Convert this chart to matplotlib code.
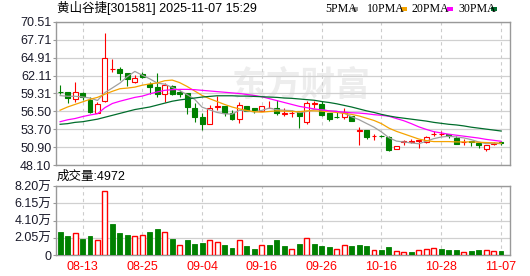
import matplotlib
matplotlib.use('Agg')
import matplotlib.pyplot as plt
from matplotlib.patches import Rectangle
import numpy as np

plt.rcParams['font.family'] = ['Liberation Sans', 'Noto Sans CJK SC']

dates = ['08-08', '08-11', '08-12', '08-13', '08-14', '08-15', '08-18', '08-19', '08-20', '08-21',
         '08-22', '08-25', '08-26', '08-27', '08-28', '08-29', '09-01', '09-02', '09-03', '09-04',
         '09-05', '09-08', '09-09', '09-10', '09-11', '09-12', '09-15', '09-16', '09-17', '09-18',
         '09-19', '09-22', '09-23', '09-24', '09-25', '09-26', '09-29', '09-30', '10-09', '10-10',
         '10-13', '10-14', '10-15', '10-16', '10-17', '10-20', '10-21', '10-22', '10-23', '10-24',
         '10-27', '10-28', '10-29', '10-30', '10-31', '11-03', '11-04', '11-05', '11-06', '11-07']

opens = np.array([59.6, 59.55, 58.4, 59.34, 58.3, 56.32, 58.09, 63.1, 63.08, 62.46,
                  61.16, 62.36, 60.8, 60.38, 59.24, 60.4, 59.5, 59.4, 57.0, 55.7,
                  54.6, 57.2, 57.36, 56.2, 55.3, 57.36, 57.0, 56.6, 57.0, 57.0,
                  56.1, 56.2, 56.5, 54.8, 57.7, 57.7, 56.26, 55.7, 55.7, 55.74,
                  53.5, 53.66, 52.6, 52.75, 52.45, 50.65, 51.7, 51.8, 51.9, 51.8,
                  52.95, 52.95, 53.0, 52.3, 51.7, 51.95, 51.6, 50.65, 51.5, 51.7])
highs = np.array([60.6, 59.55, 61.1, 59.5, 58.7, 58.05, 68.8, 64.64, 63.5, 62.5,
                  62.2, 62.7, 61.16, 62.56, 61.0, 60.6, 59.85, 59.4, 57.8, 56.2,
                  57.5, 58.9, 57.4, 56.7, 58.0, 57.4, 57.0, 57.4, 58.2, 58.3,
                  57.0, 56.7, 56.5, 58.2, 58.2, 58.2, 56.26, 56.5, 57.1, 55.8,
                  54.0, 53.66, 52.98, 52.9, 52.6, 51.1, 52.0, 52.2, 52.0, 52.6,
                  53.4, 53.4, 53.0, 52.6, 52.2, 51.95, 51.6, 51.3, 51.8, 51.95])
lows = np.array([59.25, 57.8, 58.05, 58.3, 56.3, 56.2, 58.0, 62.7, 61.4, 60.5,
                 61.0, 61.7, 59.24, 58.82, 58.04, 59.1, 58.7, 56.1, 54.9, 53.6,
                 54.5, 56.8, 55.8, 55.2, 54.7, 56.5, 56.3, 56.5, 57.0, 55.9,
                 55.8, 55.6, 53.9, 54.5, 57.1, 55.85, 55.06, 55.5, 55.3, 55.0,
                 51.2, 52.2, 52.1, 52.5, 50.3, 50.6, 51.2, 51.6, 50.8, 51.6,
                 52.7, 52.6, 52.3, 51.4, 51.3, 51.1, 50.8, 50.3, 51.3, 51.2])
closes = np.array([59.5, 58.61, 59.55, 58.82, 56.48, 57.62, 64.8, 63.2, 62.56, 61.5,
                   61.68, 61.84, 60.38, 59.24, 60.64, 59.2, 59.3, 57.25, 55.6, 54.5,
                   57.1, 57.3, 56.2, 55.3, 57.5, 56.6, 56.6, 57.36, 57.1, 56.2,
                   56.2, 56.3, 55.85, 57.9, 57.8, 56.0, 55.4, 55.6, 56.36, 55.06,
                   53.66, 52.47, 52.7, 52.65, 50.5, 51.06, 51.95, 51.9, 52.0, 52.5,
                   53.05, 53.05, 52.6, 51.4, 51.8, 51.7, 51.2, 51.3, 51.6, 51.6])

# volume in 万手
vols = np.array([2.73, 2.26, 2.57, 1.9, 2.26, 1.78, 7.6, 3.68, 2.61, 2.38,
                 2.22, 2.38, 2.73, 3.09, 2.69, 1.9, 1.15, 1.78, 1.31, 1.43,
                 1.78, 1.54, 1.19, 0.83, 1.78, 1.07, 0.71, 1.15, 1.19, 1.78,
                 1.07, 0.67, 1.31, 1.98, 1.31, 1.07, 0.95, 0.71, 1.15, 1.07,
                 1.19, 1.07, 0.55, 0.59, 0.95, 0.44, 0.32, 0.36, 0.55, 0.67,
                 0.79, 0.71, 0.59, 0.59, 0.32, 0.48, 0.59, 0.55, 0.48, 0.4972])

ma5 = [58.98, 58.87, 58.87, 58.77, 58.59, 58.22, 59.45, 60.18, 60.93, 61.94,
       62.75, 62.16, 61.59, 60.93, 60.76, 60.26, 59.75, 59.13, 58.4, 57.17,
       56.75, 56.35, 56.14, 56.08, 56.68, 56.58, 56.44, 56.67, 57.03, 56.77,
       56.69, 56.63, 56.33, 56.49, 56.81, 56.77, 56.59, 56.54, 56.23, 55.68,
       55.22, 54.63, 54.05, 53.31, 52.4, 51.88, 51.74, 51.59, 51.46, 51.86,
       52.26, 52.51, 52.64, 52.52, 52.38, 52.11, 51.74, 51.48, 51.52, 51.48]
ma10 = [56.7, 57.2, 57.6, 58.0, 58.4, 58.7, 59.2, 59.65, 60.05, 60.15,
        60.3, 60.6, 60.8, 60.95, 61.3, 61.4, 61.0, 60.4, 59.7, 59.0,
        58.5, 58.05, 57.6, 57.2, 56.9, 56.65, 56.45, 56.4, 56.5, 56.6,
        56.55, 56.5, 56.45, 56.6, 56.6, 56.55, 56.45, 56.35, 56.2, 56.05,
        55.8, 55.45, 55.1, 54.6, 53.9, 53.4, 53.0, 52.6, 52.2, 51.95,
        51.8, 51.8, 51.8, 51.75, 51.75, 51.75, 51.7, 51.65, 51.6, 51.55]
ma20 = [54.9, 55.2, 55.4, 55.7, 55.95, 56.15, 57.1, 57.75, 58.1, 58.4,
        58.7, 58.9, 59.25, 59.55, 59.8, 59.9, 59.95, 59.95, 59.9, 59.8,
        59.7, 59.6, 59.5, 59.4, 59.3, 59.15, 59.0, 58.8, 58.5, 58.2,
        57.9, 57.6, 57.3, 57.1, 56.9, 56.75, 56.6, 56.5, 56.4, 56.3,
        56.25, 56.15, 56.0, 55.9, 55.75, 55.4, 55.05, 54.6, 54.1, 53.7,
        53.35, 53.15, 52.95, 52.8, 52.65, 52.5, 52.35, 52.15, 52.0, 51.85]
ma30 = [54.5, 54.6, 54.8, 54.9, 55.1, 55.3, 55.6, 55.9, 56.2, 56.5,
        56.8, 57.0, 57.2, 57.5, 57.8, 58.1, 58.3, 58.45, 58.6, 58.75,
        58.85, 58.95, 58.95, 58.95, 58.9, 58.9, 58.85, 58.8, 58.75, 58.7,
        58.6, 58.55, 58.45, 58.35, 58.25, 58.05, 57.9, 57.7, 57.45, 57.2,
        56.9, 56.6, 56.35, 56.05, 55.8, 55.6, 55.45, 55.3, 55.15, 55.0,
        54.8, 54.65, 54.5, 54.4, 54.25, 54.05, 53.9, 53.75, 53.6, 53.45]

price_ticks = [48.10, 50.90, 53.70, 56.50, 59.31, 62.11, 64.91, 67.71, 70.51]
vol_ticks = [0, 2.05, 4.10, 6.15, 8.20]
vol_labels = ['0', '2.05万', '4.10万', '6.15万', '8.20万']

RED = '#ff0000'
GREEN = '#008000'
W, H = 530, 276


def px(x, y):
    return x / W, 1 - y / H


fig = plt.figure(figsize=(W / 100, H / 100), dpi=100)
ax1 = fig.add_axes([56 / W, 1 - 165.3 / H, 454 / W, 143.6 / H])
ax2 = fig.add_axes([56 / W, 1 - 255 / H, 454 / W, 69 / H])

x = np.arange(len(dates))
bw = 0.66
lw = 0.8

# watermark
ax1.text(0.54, 0.56, '东方财富', transform=ax1.transAxes, fontsize=25, color='#ededed',
         ha='center', va='center', fontweight='bold', zorder=0,
         family=['Noto Sans CJK SC', 'DejaVu Sans'])

for i in x:
    o, h, l, c = opens[i], highs[i], lows[i], closes[i]
    lo, hi = min(o, c), max(o, c)
    if c >= o:
        ax1.add_patch(Rectangle((i - bw / 2, lo), bw, max(hi - lo, 0.02), facecolor='white',
                                edgecolor=RED, lw=lw, zorder=3))
        ax1.vlines(i, hi, h, color=RED, lw=lw, zorder=3)
        ax1.vlines(i, l, lo, color=RED, lw=lw, zorder=3)
    else:
        ax1.vlines(i, l, h, color=GREEN, lw=lw, zorder=3)
        ax1.add_patch(Rectangle((i - bw / 2, lo), bw, max(hi - lo, 0.02), facecolor=GREEN,
                                edgecolor=GREEN, lw=lw, zorder=3))

ax1.plot(x, ma5, color='#a0a0a0', lw=0.9, zorder=4)
ax1.plot(x, ma10, color='#f5a300', lw=0.9, zorder=4)
ax1.plot(x, ma20, color='#ff00ff', lw=0.9, zorder=4)
ax1.plot(x, ma30, color='#006d2c', lw=0.9, zorder=4)

vol_up = np.r_[False, closes[1:] > closes[:-1]]
for i in x:
    if vol_up[i]:
        ax2.add_patch(Rectangle((i - bw / 2, 0), bw, vols[i], facecolor='white',
                                edgecolor=RED, lw=1.0, zorder=3))
    else:
        ax2.add_patch(Rectangle((i - bw / 2, 0), bw, vols[i], facecolor=GREEN,
                                edgecolor=GREEN, lw=0.6, zorder=3))

for ax in (ax1, ax2):
    ax.set_xlim(-0.55, 60.2)
    ax.set_xticks(x[3::8])
    ax.grid(axis='y', color='#d0d0d0', lw=0.9, ls='-', zorder=1)
    ax.grid(axis='x', color='#cccccc', lw=0.8, ls=(0, (3, 3)), zorder=1)
    ax.set_axisbelow(True)
    for s in ax.spines.values():
        s.set_color('#999999')
        s.set_linewidth(1.0)
    ax.tick_params(axis='y', length=2.5, pad=0.8, color='#999999', labelsize=9,
                   labelcolor='#1a1a2a')
    ax.tick_params(axis='x', length=0)

ax1.set_ylim(price_ticks[0], price_ticks[-1])
ax1.set_yticks(price_ticks)
ax1.set_yticklabels(['%.2f' % t for t in price_ticks])
ax1.tick_params(axis='x', labelbottom=False)

ax2.set_ylim(0, 8.2)
ax2.set_yticks(vol_ticks)
ax2.set_yticklabels(vol_labels)
ax2.set_xticklabels(dates[3::8])
ax2.tick_params(axis='x', labelsize=9, labelcolor=RED, pad=4)

fig.text(*px(57, 7.7), '黄山谷捷[301581] 2025-11-07 15:29', fontsize=9, va='center', ha='left')
fig.text(*px(57, 177), '成交量:4972', fontsize=9, va='center', ha='left')

legend = [('5PMA', 325, 352, '#a0a0a0'), ('10PMA', 367, 401, '#f5a300'),
          ('20PMA', 412, 447, '#ff00ff'), ('30PMA', 458, 491, '#006d2c')]
for name, tx, sx, col in legend:
    fig.text(*px(tx, 8.8), name, fontsize=8.6, va='center', ha='left',
             family=['Liberation Serif', 'DejaVu Serif'])
    fig.patches.append(Rectangle(px(sx, 10.5), 6 / W, 4 / H, transform=fig.transFigure,
                                 facecolor=col, edgecolor='none', figure=fig))

fig.savefig('out.png', dpi=100)
